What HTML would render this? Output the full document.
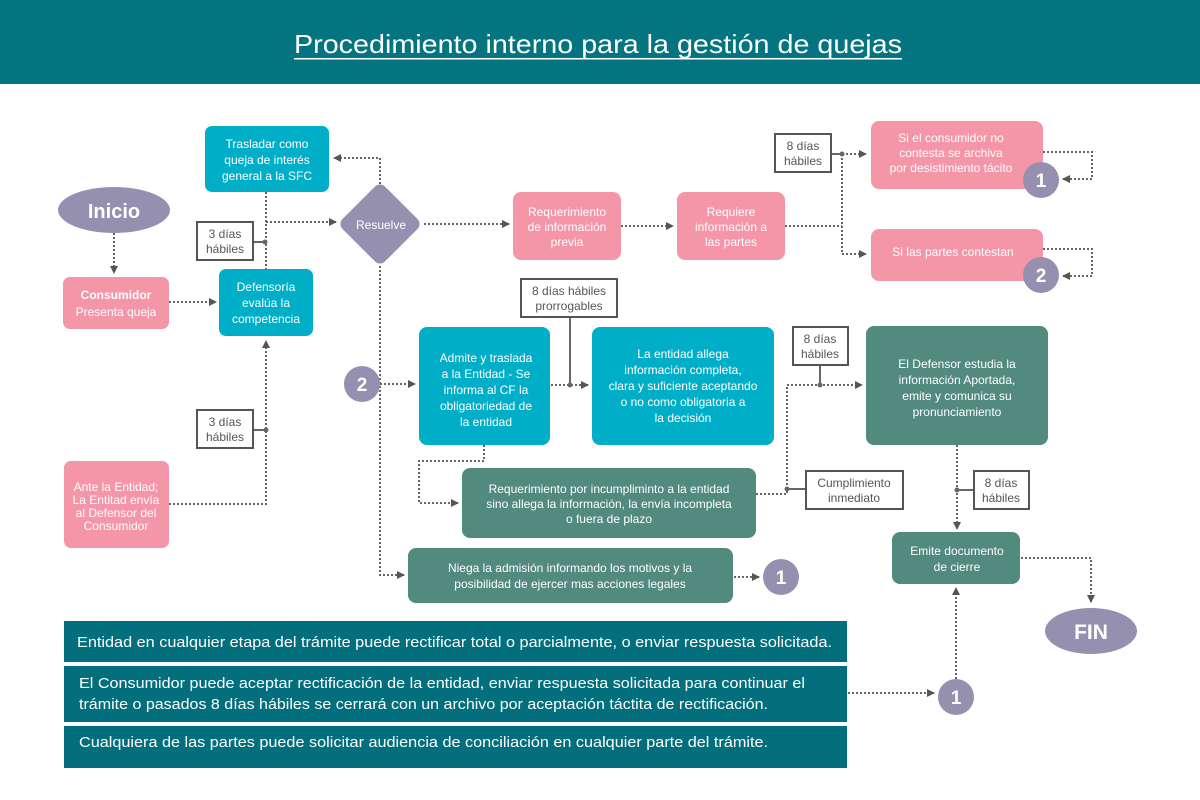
<!DOCTYPE html>
<html><head><meta charset="utf-8"><style>
html,body{margin:0;padding:0;background:#fff}
svg{display:block}
text{font-family:"Liberation Sans",sans-serif}
.w{fill:#fff;font-size:12px;text-anchor:middle}
.g{fill:#555;font-size:12px;text-anchor:middle}
.d{stroke:#666;stroke-width:2;stroke-dasharray:2 2;fill:none}
.s{stroke:#666;stroke-width:2;fill:none}
.lb{fill:#fff;stroke:#555;stroke-width:2}
.bn{fill:#fff;font-size:14.5px}
</style></head><body>
<svg width="1200" height="800" viewBox="0 0 1200 800" xmlns="http://www.w3.org/2000/svg">
<defs><marker id="a" markerWidth="8" markerHeight="8" refX="7" refY="4" orient="auto" markerUnits="userSpaceOnUse"><path d="M0,0 L8,4 L0,8 z" fill="#555"/></marker></defs>
<rect x="0" y="0" width="1200" height="84" fill="#047480"/>
<text x="598" y="53" fill="#fff" font-size="26" text-anchor="middle" textLength="608" lengthAdjust="spacingAndGlyphs">Procedimiento interno para la gestión de quejas</text>
<rect x="294" y="58" width="608" height="1.5" fill="#fff"/>

<!-- connectors -->
<path class="d" d="M114,233 V273" marker-end="url(#a)"/>
<path class="d" d="M169,302 H216" marker-end="url(#a)"/>
<path class="d" d="M266,192 V269"/>
<path class="d" d="M266,222 H336" marker-end="url(#a)"/>
<path class="d" d="M380,184 V158 H334" marker-end="url(#a)"/>
<path class="d" d="M169,504 H266 V341" marker-end="url(#a)"/>
<path class="d" d="M424,224 H509" marker-end="url(#a)"/>
<path class="d" d="M621,226 H673" marker-end="url(#a)"/>
<path class="d" d="M785,226 H842 M842,154 V254 M842,154 H866 M842,254 H866"/>
<path class="d" d="M842,154 H866" marker-end="url(#a)"/>
<path class="d" d="M842,254 H866" marker-end="url(#a)"/>
<path class="d" d="M1043,152 H1092 V179 H1063" marker-end="url(#a)"/>
<path class="d" d="M1043,249 H1092 V276 H1063" marker-end="url(#a)"/>
<path class="d" d="M380,266 V575 H404" marker-end="url(#a)"/>
<path class="d" d="M380,384 H415" marker-end="url(#a)"/>
<path class="d" d="M551,385 H588" marker-end="url(#a)"/>
<path class="d" d="M484,445 V461 H419 V503 H458" marker-end="url(#a)"/>
<path class="d" d="M756,494 H787 V385 H862" marker-end="url(#a)"/>
<path class="d" d="M957,445 V529" marker-end="url(#a)"/>
<path class="d" d="M1021,558 H1091 V602" marker-end="url(#a)"/>
<path class="d" d="M734,577 H759" marker-end="url(#a)"/>
<path class="d" d="M848,693 H934" marker-end="url(#a)"/>
<path class="d" d="M956,679 V588" marker-end="url(#a)"/>

<!-- label boxes + connectors -->
<path class="s" d="M253,242 H265"/><circle cx="265" cy="242" r="2.5" fill="#666"/>
<rect class="lb" x="197" y="222" width="56" height="38"/><text class="g" x="225" y="238">3 días</text><text class="g" x="225" y="253">hábiles</text>
<path class="s" d="M253,430 H266"/><circle cx="266" cy="430" r="2.5" fill="#666"/>
<rect class="lb" x="197" y="410" width="56" height="38"/><text class="g" x="225" y="426">3 días</text><text class="g" x="225" y="441">hábiles</text>
<path class="s" d="M831,154 H842"/><circle cx="842" cy="154" r="2.5" fill="#666"/>
<rect class="lb" x="775" y="134" width="56" height="38"/><text class="g" x="803" y="150">8 días</text><text class="g" x="803" y="165">hábiles</text>
<path class="s" d="M570,317 V385"/><circle cx="570" cy="385" r="2.5" fill="#666"/>
<rect class="lb" x="521" y="279" width="96" height="38"/><text class="g" x="569" y="295">8 días hábiles</text><text class="g" x="569" y="310">prorrogables</text>
<path class="s" d="M820,365 V385"/><circle cx="820" cy="385" r="2.5" fill="#666"/>
<rect class="lb" x="793" y="327" width="55" height="38"/><text class="g" x="820" y="343">8 días</text><text class="g" x="820" y="358">hábiles</text>
<path class="s" d="M787,489 H806"/><circle cx="787" cy="489" r="2.5" fill="#666"/>
<rect class="lb" x="806" y="471" width="97" height="38"/><text class="g" x="854" y="487">Cumplimiento</text><text class="g" x="854" y="502">inmediato</text>
<path class="s" d="M957,490 H974"/><circle cx="957" cy="490" r="2.5" fill="#666"/>
<rect class="lb" x="974" y="471" width="55" height="38"/><text class="g" x="1001" y="487">8 días</text><text class="g" x="1001" y="502">hábiles</text>

<!-- nodes -->
<ellipse cx="114" cy="210" rx="56" ry="23" fill="#9590B0"/>
<text x="114" y="218" fill="#fff" font-size="20" font-weight="bold" text-anchor="middle">Inicio</text>
<rect x="63" y="277" width="106" height="52" rx="7" fill="#F595A8"/>
<text class="w" x="116" y="299" font-weight="bold">Consumidor</text><text class="w" x="116" y="316">Presenta queja</text>
<rect x="205" y="126" width="124" height="66" rx="7" fill="#00AFC7"/>
<text class="w" x="267" y="148">Trasladar como</text><text class="w" x="267" y="164">queja de interés</text><text class="w" x="267" y="180">general a la SFC</text>
<rect x="219" y="269" width="94" height="67" rx="7" fill="#00AFC7"/>
<text class="w" x="266" y="291">Defensoría</text><text class="w" x="266" y="307">evalúa la</text><text class="w" x="266" y="323">competencia</text>
<rect x="64" y="461" width="105" height="87" rx="7" fill="#F595A8"/>
<text class="w" x="116" y="491" font-size="11.5">Ante la Entidad;</text><text class="w" x="116" y="504" font-size="11.5">La Entitad envía</text><text class="w" x="116" y="517" font-size="11.5">al Defensor del</text><text class="w" x="116" y="530" font-size="11.5">Consumidor</text>
<rect x="350" y="194" width="60" height="60" rx="7" fill="#9590B0" transform="rotate(45 380 224)"/>
<text class="w" x="381" y="229" font-size="14">Resuelve</text>
<rect x="513" y="192" width="108" height="68" rx="8" fill="#F595A8"/>
<text class="w" x="567" y="216">Requerimiento</text><text class="w" x="567" y="231">de información</text><text class="w" x="567" y="246">previa</text>
<rect x="677" y="192" width="108" height="68" rx="8" fill="#F595A8"/>
<text class="w" x="731" y="216">Requiere</text><text class="w" x="731" y="231">información a</text><text class="w" x="731" y="246">las partes</text>
<rect x="871" y="121" width="172" height="68" rx="8" fill="#F595A8"/>
<text class="w" x="951" y="142">Si el consumidor no</text><text class="w" x="951" y="157">contesta se archiva</text><text class="w" x="951" y="172">por desistimiento tácito</text>
<rect x="871" y="229" width="172" height="52" rx="8" fill="#F595A8"/>
<text class="w" x="953" y="256">Si las partes contestan</text>
<circle cx="1041" cy="180" r="18" fill="#9590B0"/><text x="1041" y="187" fill="#fff" font-size="19" font-weight="bold" text-anchor="middle">1</text>
<circle cx="1041" cy="275" r="18" fill="#9590B0"/><text x="1041" y="282" fill="#fff" font-size="19" font-weight="bold" text-anchor="middle">2</text>
<circle cx="362" cy="384" r="18" fill="#9590B0"/><text x="362" y="391" fill="#fff" font-size="19" font-weight="bold" text-anchor="middle">2</text>
<rect x="419" y="327" width="131" height="118" rx="8" fill="#00AFC7"/>
<text class="w" x="486" y="362">Admite y traslada</text><text class="w" x="486" y="378">a la Entidad - Se</text><text class="w" x="486" y="394">informa al CF la</text><text class="w" x="486" y="410">obligatoriedad de</text><text class="w" x="486" y="426">la entidad</text>
<rect x="592" y="327" width="182" height="118" rx="8" fill="#00AFC7"/>
<text class="w" x="683" y="358">La entidad allega</text><text class="w" x="683" y="374">información completa,</text><text class="w" x="683" y="390">clara y suficiente aceptando</text><text class="w" x="683" y="406">o no como obligatoria a</text><text class="w" x="683" y="422">la decisión</text>
<rect x="462" y="468" width="294" height="70" rx="8" fill="#528A7E"/>
<text class="w" x="609" y="493">Requerimiento por incumpliminto a la entidad</text><text class="w" x="609" y="508">sino allega la información, la envía incompleta</text><text class="w" x="609" y="523">o fuera de plazo</text>
<rect x="408" y="548" width="325" height="55" rx="8" fill="#528A7E"/>
<text class="w" x="570" y="572">Niega la admisión informando los motivos y la</text><text class="w" x="570" y="588">posibilidad de ejercer mas acciones legales</text>
<circle cx="781" cy="577" r="18" fill="#9590B0"/><text x="781" y="584" fill="#fff" font-size="19" font-weight="bold" text-anchor="middle">1</text>
<rect x="866" y="326" width="182" height="119" rx="8" fill="#528A7E"/>
<text class="w" x="957" y="368">El Defensor estudia la</text><text class="w" x="957" y="384">información Aportada,</text><text class="w" x="957" y="400">emite y comunica su</text><text class="w" x="957" y="416">pronunciamiento</text>
<rect x="892" y="532" width="128" height="52" rx="8" fill="#528A7E"/>
<text class="w" x="957" y="555">Emite documento</text><text class="w" x="957" y="571">de cierre</text>
<ellipse cx="1091" cy="631" rx="46" ry="23" fill="#9590B0"/>
<text x="1091" y="639" fill="#fff" font-size="21" font-weight="bold" text-anchor="middle">FIN</text>
<circle cx="956" cy="697" r="18" fill="#9590B0"/><text x="956" y="704" fill="#fff" font-size="19" font-weight="bold" text-anchor="middle">1</text>

<!-- banners -->
<rect x="64" y="621" width="783" height="41" fill="#036F7C"/>
<text class="bn" x="77" y="647" textLength="755" lengthAdjust="spacingAndGlyphs">Entidad en cualquier etapa del trámite puede rectificar total o parcialmente, o enviar respuesta solicitada.</text>
<rect x="64" y="666" width="783" height="56" fill="#036F7C"/>
<text class="bn" x="79" y="688" textLength="726" lengthAdjust="spacingAndGlyphs">El Consumidor puede aceptar rectificación de la entidad, enviar respuesta solicitada para continuar el</text>
<text class="bn" x="79" y="709" textLength="689" lengthAdjust="spacingAndGlyphs">trámite o pasados 8 días hábiles se cerrará con un archivo por aceptación táctita de rectificación.</text>
<rect x="64" y="726" width="783" height="42" fill="#036F7C"/>
<text class="bn" x="79" y="747" textLength="689" lengthAdjust="spacingAndGlyphs">Cualquiera de las partes puede solicitar audiencia de conciliación en cualquier parte del trámite.</text>
</svg>
</body></html>
